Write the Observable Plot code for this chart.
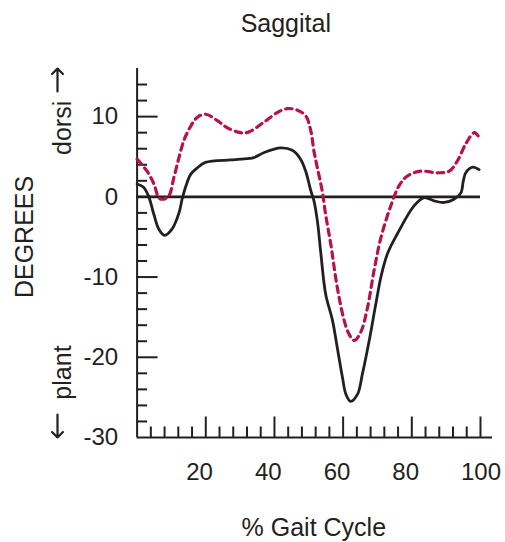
<!DOCTYPE html>
<html>
<head>
<meta charset="utf-8">
<script src="https://cdn.jsdelivr.net/npm/d3@7"></script>
<script src="https://cdn.jsdelivr.net/npm/@observablehq/plot@0.6"></script>
<style>
  html, body { margin: 0; padding: 0; background: #fff; }
  #chart svg { display: block; }
</style>
</head>
<body>
<div id="chart"></div>
<script>
// ---- data ----
const chartTitle = "Saggital";
const xTitle = "% Gait Cycle";
const yTitle = "DEGREES";
const upLabel = "dorsi";
const downLabel = "plant";

// solid black curve (% gait cycle, degrees)
const solidPct = [0, 1.9, 3.4, 4.9, 6.3, 8.0, 10.2, 12.2, 13.1, 14.1, 15.6, 17.5, 19.9, 27.2, 30.1, 34, 36.9, 41.8, 45.2, 47.6, 49.1, 50.6, 51.5, 52.5, 53.5, 54.9, 56.9, 58.3, 59.8, 60.8, 62.2, 64.2, 65.6, 67.6, 69.5, 71, 72.9, 75.8, 80.7, 83.6, 86.5, 89.4, 92.3, 94.3, 95, 95.7, 97.7, 99.6];
const solidDeg = [1.6, 1.2, 0, -2.2, -4.0, -4.8, -4.0, -2.0, -0.3, 1.2, 2.8, 3.6, 4.3, 4.6, 4.7, 4.9, 5.5, 6.1, 5.8, 4.7, 3.2, 0.75, -0.5, -3.0, -7.0, -12.1, -15.4, -18.8, -22.5, -24.6, -25.5, -24.6, -22.1, -17.9, -13.4, -10.0, -7.1, -4.6, -1.1, -0.1, -0.5, -0.7, -0.3, 0.5, 2.0, 3.0, 3.7, 3.4];

// dashed red curve
const dashedPct = [0, 2.9, 4.9, 6.3, 7.3, 9.2, 10.7, 12.2, 13.6, 15.6, 17.5, 19.9, 23.4, 26.3, 30.1, 32.6, 36.9, 40.8, 43.8, 46.7, 49.1, 50.6, 51.5, 52.5, 53.9, 54.9, 56.4, 58.3, 60.3, 61.7, 63.2, 65.1, 67.1, 69, 71, 73.9, 76.3, 78.7, 82.6, 87.5, 90.9, 93.3, 95.7, 98.2, 99.3];
const dashedDeg = [4.7, 3.2, 1.6, -0.1, -0.3, 0.1, 2.4, 4.9, 7.0, 8.8, 9.9, 10.3, 9.5, 8.6, 8.0, 8.1, 9.3, 10.5, 11.0, 10.8, 10.1, 8.2, 5.7, 3.6, 0.75, -2.2, -5.9, -11.3, -15.4, -17.1, -17.9, -16.9, -13.8, -9.2, -5.1, -1.1, 1.4, 2.6, 3.2, 3.0, 3.2, 4.5, 6.6, 8.0, 7.6];

// axes
const xDomain = [0, 103.5];
const yDomain = [-30, 16];
const xLabels = [20, 40, 60, 80, 100];
const xMajorTicks = [20, 40, 60, 80, 100];
const xMinorTicks = [4, 8, 12, 16, 24, 28, 32, 36, 44, 48, 52, 56, 64, 68, 72, 76, 84, 88, 92, 96];
const yLabels = [-30, -20, -10, 0, 10];
const yMajorTicks = [-20, -10, 0, 10];
const yMinorTicks = [-28, -26, -24, -22, -18, -16, -14, -12, -8, -6, -4, -2, 2, 4, 6, 8, 12, 14];

// ---- build ----
const solid = solidPct.map((x, i) => ({x, y: solidDeg[i]}));
const dashed = dashedPct.map((x, i) => ({x, y: dashedDeg[i]}));

const ink = "#231f20";
const red = "#b5134b";
const font = "'Liberation Sans', Arial, Helvetica, sans-serif";

const W = 505, H = 542;
const mL = 136.6, mR = 13, mT = 68, mB = 105;
const pxPerX = (W - mL - mR) / (xDomain[1] - xDomain[0]);
const pxPerY = (H - mT - mB) / (yDomain[1] - yDomain[0]);
// helpers converting pixel offsets from the frame corner into data units
const xAtPx = px => xDomain[0] + (px - mL) / pxPerX;
const yAtPx = py => yDomain[0] + (H - mB - py) / pxPerY;

const arrowX = xAtPx(57);
const arrows = [
  {x: arrowX, y1: yAtPx(91), y2: yAtPx(68)},
  {x: arrowX, y1: yAtPx(414), y2: yAtPx(437)}
];

const chart = Plot.plot({
  width: W,
  height: H,
  marginLeft: mL,
  marginRight: mR,
  marginTop: mT,
  marginBottom: mB,
  style: {fontFamily: font, color: ink, background: "#fff"},
  x: {domain: xDomain, axis: null},
  y: {domain: yDomain, axis: null},
  marks: [
    // axis lines
    Plot.ruleX([xDomain[0]], {y1: yDomain[0], y2: yDomain[1], stroke: ink, strokeWidth: 2}),
    Plot.ruleY([yDomain[0]], {x1: xDomain[0], x2: xDomain[1], stroke: ink, strokeWidth: 2}),
    // inward ticks
    Plot.ruleY(yMinorTicks, {y: d => d, x1: xDomain[0], x2: xDomain[0] + 10.5 / pxPerX, stroke: ink, strokeWidth: 2}),
    Plot.ruleY(yMajorTicks, {y: d => d, x1: xDomain[0], x2: xDomain[0] + 21 / pxPerX, stroke: ink, strokeWidth: 2}),
    Plot.ruleX(xMinorTicks, {x: d => d, y1: yDomain[0], y2: yDomain[0] + 10.5 / pxPerY, stroke: ink, strokeWidth: 2}),
    Plot.ruleX(xMajorTicks, {x: d => d, y1: yDomain[0], y2: yDomain[0] + 20.5 / pxPerY, stroke: ink, strokeWidth: 2}),
    // zero line
    Plot.ruleY([0], {x1: 0, x2: 100, stroke: ink, strokeWidth: 2.6}),
    // tick labels
    Plot.text(yLabels, {y: d => d, text: d => String(d), frameAnchor: "left", dx: -19, textAnchor: "end", lineAnchor: "middle", fontSize: 24, fill: ink}),
    Plot.text(xLabels, {x: d => d, text: d => String(d), frameAnchor: "bottom", dx: -19.5, dy: 25, textAnchor: "start", lineAnchor: "top", fontSize: 24, fill: ink}),
    // curves
    Plot.line(dashed, {x: "x", y: "y", stroke: red, strokeWidth: 3.2, strokeDasharray: "6.5,5", curve: "catmull-rom"}),
    Plot.line(solid, {x: "x", y: "y", stroke: ink, strokeWidth: 2.8, curve: "catmull-rom"}),
    // titles
    Plot.text([chartTitle], {text: d => d, frameAnchor: "top", dx: -29, dy: -37, lineAnchor: "bottom", fontSize: 25, fill: ink}),
    Plot.text([xTitle], {text: d => d, frameAnchor: "bottom", dx: -1, dy: 98, lineAnchor: "bottom", fontSize: 25, fill: ink}),
    Plot.text([yTitle], {text: d => d, frameAnchor: "left", y: -5, dx: 24 - mL, rotate: -90, textAnchor: "middle", lineAnchor: "middle", fontSize: 25, fill: ink}),
    Plot.text([upLabel], {text: d => d, frameAnchor: "left", y: 8.6, dx: 62 - mL, rotate: -90, textAnchor: "middle", lineAnchor: "middle", fontSize: 25, fill: ink}),
    Plot.text([downLabel], {text: d => d, frameAnchor: "left", y: -21.9, dx: 62 - mL, rotate: -90, textAnchor: "middle", lineAnchor: "middle", fontSize: 25, fill: ink}),
    // direction arrows
    Plot.arrow(arrows, {x: "x", y1: "y1", y2: "y2", stroke: ink, strokeWidth: 2.2, headAngle: 90, headLength: 10})
  ]
});
document.getElementById("chart").appendChild(chart);
</script>
</body>
</html>
